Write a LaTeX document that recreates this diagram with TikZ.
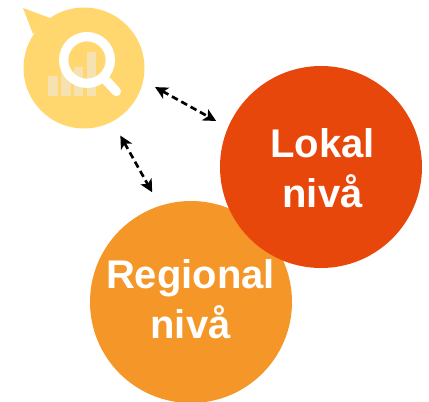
\documentclass[tikz,border=0pt]{standalone}
\usepackage{fontspec}
\setmainfont{Liberation Sans}
\usepackage{xcolor}
\usetikzlibrary{arrows.meta}
\definecolor{sunny}{HTML}{FFD76E}
\definecolor{barpale}{HTML}{F5E2B0}
\definecolor{lokalred}{HTML}{E8470B}
\definecolor{regionalorange}{HTML}{F59728}
\tikzset{
x=0.75pt,
y=0.75pt,
>={Stealth[length=9.5pt,width=9.5pt,inset=2.5pt]},
level/.style={%
    circle,
    minimum size=151.5pt,
    inner sep=0pt
},
leveltext/.style={%
    inner sep=0pt,
    align=center,
    text=white,
    font=\bfseries\fontsize{30}{37.7}\selectfont
},
icon/.style={%
    circle,
    minimum size=90.75pt,
    inner sep=0pt,
    fill=sunny
},
link/.style={<->, black, line width=2pt, dash pattern=on 5pt off 3pt},
bar/.style={fill=barpale},
}

\begin{document}
\begin{tikzpicture}
	\useasboundingbox (0,0) rectangle (429,401);
	\node[level, fill=regionalorange] (regional) at (191,99) {};
	\node[leveltext] (regionaltext) at (190.5,102) {Regional\\nivå};
	\node[level, fill=lokalred] (lokal) at (321,234) {};
	\node[leveltext] (lokaltext) at (322.5,232.5) {Lokal\\nivå};
	\node[icon] (sok) at (84,333) {};
	\fill[sunny] (23,393) -- (50,383) -- (33,367) -- cycle;

	% bars
	\fill[bar] (48,305) rectangle (58,325);
	\fill[bar] (61,305) rectangle (71,332);
	\fill[bar] (74,305) rectangle (83,334);
	\fill[bar] (87,305) rectangle (96,349);

	% magnifier
	\node[circle, draw=white, line width=7pt, minimum size=35pt, inner sep=0pt] (lens) at (87,341) {};
	\draw[white, line width=7pt, line cap=round] (lens.-47) -- ++(-47:15);

	\draw[link, shorten <=10pt, shorten >=10pt] (sok.-12.7) -- (lokal.157.6);
	\draw[link, shorten <=12pt, shorten >=11.5pt] (sok.-62.3) -- (regional.108.9);
\end{tikzpicture}
\end{document}
